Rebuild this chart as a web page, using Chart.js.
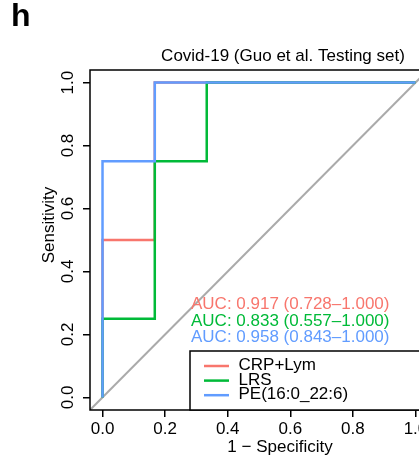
<!DOCTYPE html>
<html><head><meta charset="utf-8">
<script src="https://cdn.jsdelivr.net/npm/chart.js@4/dist/chart.umd.min.js"></script>
<style>
html,body{margin:0;padding:0;overflow:hidden;background:#fff;width:419px;height:461px}
#wrap{position:absolute;left:0;top:0;width:440px;height:461px}
</style>
</head><body><div id="wrap"><canvas id="c" width="440" height="461"></canvas></div>
<script>
const seriesNames = ['CRP+Lym', 'LRS', 'PE(16:0_22:6)'];
const seriesColors = ['#F8766D', '#00BA38', '#619CFF'];
const aucLabels = ['AUC: 0.917 (0.728\u20131.000)', 'AUC: 0.833 (0.557\u20131.000)', 'AUC: 0.958 (0.843\u20131.000)'];
const crpX = [0.000, 0.000, 0.167, 0.167, 1.000];
const crpY = [0.00, 0.50, 0.50, 1.00, 1.00];
const lrsX = [0.000, 0.000, 0.167, 0.167, 0.333, 0.333, 1.000];
const lrsY = [0.00, 0.25, 0.25, 0.75, 0.75, 1.00, 1.00];
const peX = [0.000, 0.000, 0.167, 0.167, 1.000];
const peY = [0.00, 0.75, 0.75, 1.00, 1.00];
const diagX = [-0.04, 1.04];
const diagY = [-0.04, 1.04];
const axisTicks = [0, 0.2, 0.4, 0.6, 0.8, 1.0];
const tickLabels = ['0.0', '0.2', '0.4', '0.6', '0.8', '1.0'];
const axisRange = [-0.04, 1.04];
const titleText = 'Covid-19 (Guo et al. Testing set)';
const xTitle = '1 \u2212 Specificity';
const yTitle = 'Sensitivity';
const panelLabel = 'h';

const FONT = '"Liberation Sans", Arial, sans-serif';
const pts = (xs, ys) => xs.map((x, i) => ({x: x, y: ys[i]}));

const deco = {
  id: 'deco',
  afterDraw(chart) {
    const ctx = chart.ctx, a = chart.chartArea, ys = chart.scales.y;
    ctx.save();
    ctx.strokeStyle = '#000'; ctx.lineWidth = 1.5;
    ctx.strokeRect(a.left, a.top, a.right - a.left, a.bottom - a.top);
    ctx.fillStyle = '#000';
    ctx.textBaseline = 'alphabetic';
    ctx.font = 'bold 32px ' + FONT; ctx.textAlign = 'left';
    ctx.fillText(panelLabel, 11, 26);
    ctx.font = '17px ' + FONT; ctx.textAlign = 'center';
    ctx.fillText(titleText, 283, 61);
    ctx.fillText(xTitle, 280, 452);
    axisTicks.forEach((v, i) => {
      const py = ys.getPixelForValue(v);
      ctx.save(); ctx.translate(73, py); ctx.rotate(-Math.PI / 2);
      ctx.fillText(tickLabels[i], 0, 0); ctx.restore();
    });
    ctx.save(); ctx.translate(54, 225); ctx.rotate(-Math.PI / 2);
    ctx.fillText(yTitle, 0, 0); ctx.restore();
    ctx.textAlign = 'left';
    aucLabels.forEach((t, i) => { ctx.fillStyle = seriesColors[i]; ctx.fillText(t, 191, 309 + 16.7 * i); });
    // legend
    ctx.fillStyle = '#fff'; ctx.fillRect(190, 351, 300, a.bottom - 351);
    ctx.strokeStyle = '#000'; ctx.lineWidth = 1.5; ctx.strokeRect(190, 351, 300, a.bottom - 351);
    seriesNames.forEach((n, i) => {
      const ly = 366 + 14.6 * i;
      ctx.strokeStyle = seriesColors[i]; ctx.lineWidth = 2.5;
      ctx.beginPath(); ctx.moveTo(204, ly); ctx.lineTo(229, ly); ctx.stroke();
      ctx.fillStyle = '#000'; ctx.fillText(n, 238.5, 370.3 + 14.2 * i);
    });
    ctx.restore();
  }
};

const mkScale = (extra) => Object.assign({
  type: 'linear', min: axisRange[0], max: axisRange[1],
  afterBuildTicks: s => { s.ticks = axisTicks.map(v => ({value: v})); },
  border: {display: false},
  grid: {display: true, drawOnChartArea: false, drawTicks: true, tickLength: 7, color: '#000', lineWidth: 1.5}
}, extra);

new Chart(document.getElementById('c'), {
  type: 'scatter',
  data: {
    datasets: [
      {label: 'diag', data: pts(diagX, diagY), borderColor: '#AAAAAA', borderWidth: 2, order: 4},
      {label: seriesNames[0], data: pts(crpX, crpY), borderColor: seriesColors[0], borderWidth: 2.5, order: 3},
      {label: seriesNames[1], data: pts(lrsX, lrsY), borderColor: seriesColors[1], borderWidth: 2.5, order: 2},
      {label: seriesNames[2], data: pts(peX, peY), borderColor: seriesColors[2], borderWidth: 2.5, order: 1}
    ].map(d => Object.assign(d, {showLine: true, pointRadius: 0, pointHoverRadius: 0, fill: false, tension: 0}))
  },
  options: {
    responsive: false, animation: false, events: [],
    layout: {padding: {left: 0, top: 70, right: 12, bottom: 0}},
    plugins: {legend: {display: false}, title: {display: false}, tooltip: {enabled: false}},
    scales: {
      x: mkScale({
        afterFit: s => { s.height = 51; },
        ticks: {autoSkip: false, maxRotation: 0, minRotation: 0, padding: 2, color: '#000',
          font: {size: 17, family: FONT}, callback: (v, i) => tickLabels[i]}
      }),
      y: mkScale({
        afterFit: s => { s.width = 90; },
        ticks: {display: false}
      })
    }
  },
  plugins: [deco]
});
</script></body></html>
